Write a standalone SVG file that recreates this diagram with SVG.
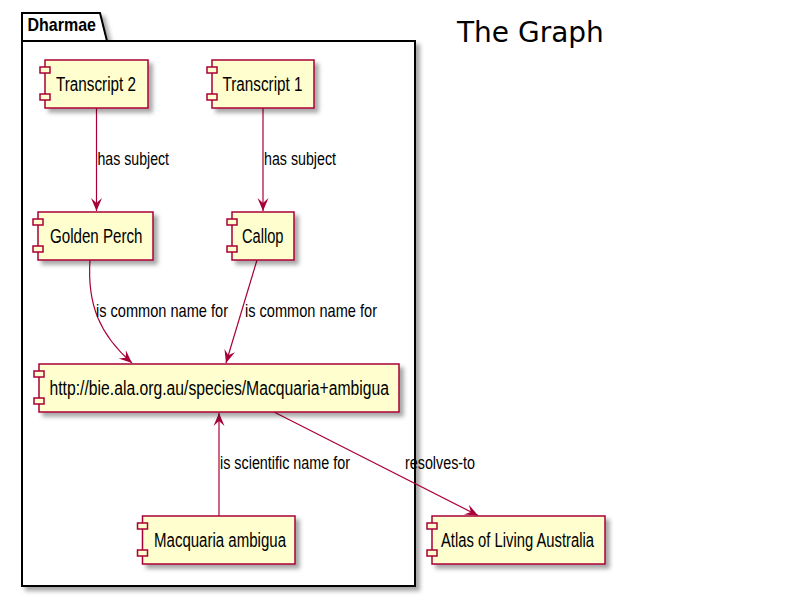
<svg xmlns="http://www.w3.org/2000/svg" width="800" height="600" viewBox="0 0 800 600">
<defs>
<filter id="sh" x="-10%" y="-10%" width="130%" height="150%">
<feGaussianBlur in="SourceAlpha" stdDeviation="2"/>
<feOffset dx="4" dy="4" result="b"/>
<feFlood flood-color="#000" flood-opacity="0.35"/>
<feComposite in2="b" operator="in" result="s"/>
<feMerge><feMergeNode in="s"/><feMergeNode in="SourceGraphic"/></feMerge>
</filter>
<marker id="arr" viewBox="-14 -7 15 14" refX="0" refY="0" markerWidth="15" markerHeight="14" markerUnits="userSpaceOnUse" orient="auto">
<path d="M0,0 L-13,-5.5 L-8,0 L-13,5.5 Z" fill="#A80036"/>
</marker>
</defs>
<style>
.box{fill:#FEFECE;stroke:#A80036;stroke-width:1.5}
.ic{fill:#FEFECE;stroke:#A80036;stroke-width:1.5}
.nt{font-family:"Liberation Sans",Arial,sans-serif;font-size:19.5px;fill:#000}
.et{font-family:"Liberation Sans",Arial,sans-serif;font-size:18.3px;fill:#000}
.ln{fill:none;stroke:#A80036;stroke-width:1.2;marker-end:url(#arr)}
</style>
<rect width="800" height="600" fill="#fff"/>
<text x="457" y="41.5" font-family="DejaVu Sans, sans-serif" font-size="28" fill="#000">The Graph</text>

<g id="pkg-Dharmae">
<path d="M22,13 L100,13 L107,41 L415,41 L415,586 L22,586 Z" fill="#fff" stroke="#000" stroke-width="2" filter="url(#sh)"/>
<line x1="22" y1="41" x2="107" y2="41" stroke="#000" stroke-width="2"/>
<text x="27.5" y="31" font-family="Liberation Sans, Arial, sans-serif" font-weight="bold" font-size="19" textLength="68.5" lengthAdjust="spacingAndGlyphs">Dharmae</text>
</g>

<g id="connectors">
<line class="ln" x1="96.5" y1="108" x2="96.5" y2="211"/>
<text class="et" x="97.5" y="165" textLength="71.5" lengthAdjust="spacingAndGlyphs">has subject</text>
<line class="ln" x1="263" y1="108" x2="263" y2="211"/>
<text class="et" x="264" y="165" textLength="72" lengthAdjust="spacingAndGlyphs">has subject</text>
<path class="ln" d="M90,260 C87,305 100,335 132,363"/>
<text class="et" transform="translate(96,316.5) scale(0.8,1)" x="0" y="0" textLength="165" lengthAdjust="spacingAndGlyphs">is common name for</text>
<path class="ln" d="M257,260 L226,363"/>
<text class="et" transform="translate(245,316.5) scale(0.8,1)" x="0" y="0" textLength="165" lengthAdjust="spacingAndGlyphs">is common name for</text>
<line class="ln" x1="219" y1="516" x2="219" y2="413"/>
<text class="et" x="220" y="469" textLength="130" lengthAdjust="spacingAndGlyphs">is scientific name for</text>
<line class="ln" x1="274" y1="412" x2="478" y2="515.5"/>
<text class="et" x="405" y="468.5" textLength="70" lengthAdjust="spacingAndGlyphs">resolves-to</text>
</g>

<g id="node-transcript2">
<rect class="box" x="45" y="60" width="103" height="48" filter="url(#sh)"/>
<rect class="ic" x="40" y="67" width="10" height="6"/>
<rect class="ic" x="40" y="94" width="10" height="6"/>
<text class="nt" x="56" y="91" textLength="80" lengthAdjust="spacingAndGlyphs">Transcript 2</text>
</g>

<g id="node-transcript1">
<rect class="box" x="212" y="60" width="102" height="48" filter="url(#sh)"/>
<rect class="ic" x="207" y="67" width="10" height="6"/>
<rect class="ic" x="207" y="94" width="10" height="6"/>
<text class="nt" x="222.5" y="91" textLength="80" lengthAdjust="spacingAndGlyphs">Transcript 1</text>
</g>

<g id="node-goldenperch">
<rect class="box" x="38" y="212" width="115" height="48" filter="url(#sh)"/>
<rect class="ic" x="33" y="219" width="10" height="6"/>
<rect class="ic" x="33" y="246" width="10" height="6"/>
<text class="nt" x="50" y="243" textLength="92.5" lengthAdjust="spacingAndGlyphs">Golden Perch</text>
</g>

<g id="node-callop">
<rect class="box" x="232" y="212" width="62" height="48" filter="url(#sh)"/>
<rect class="ic" x="227" y="219" width="10" height="6"/>
<rect class="ic" x="227" y="246" width="10" height="6"/>
<text class="nt" x="242" y="243" textLength="41.5" lengthAdjust="spacingAndGlyphs">Callop</text>
</g>

<g id="node-url">
<rect class="box" x="39" y="364" width="360" height="48" filter="url(#sh)"/>
<rect class="ic" x="34" y="371" width="10" height="6"/>
<rect class="ic" x="34" y="398" width="10" height="6"/>
<text class="nt" x="49.5" y="395" textLength="339.5" lengthAdjust="spacingAndGlyphs">http://bie.ala.org.au/species/Macquaria+ambigua</text>
</g>

<g id="node-macquaria">
<rect class="box" x="142.5" y="516" width="152.5" height="48" filter="url(#sh)"/>
<rect class="ic" x="137.5" y="523" width="10" height="6"/>
<rect class="ic" x="137.5" y="550" width="10" height="6"/>
<text class="nt" x="154" y="547" textLength="132" lengthAdjust="spacingAndGlyphs">Macquaria ambigua</text>
</g>

<g id="node-ala">
<rect class="box" x="432" y="516" width="173" height="48" filter="url(#sh)"/>
<rect class="ic" x="427" y="523" width="10" height="6"/>
<rect class="ic" x="427" y="550" width="10" height="6"/>
<text class="nt" x="441" y="547" textLength="153" lengthAdjust="spacingAndGlyphs">Atlas of Living Australia</text>
</g>
</svg>
